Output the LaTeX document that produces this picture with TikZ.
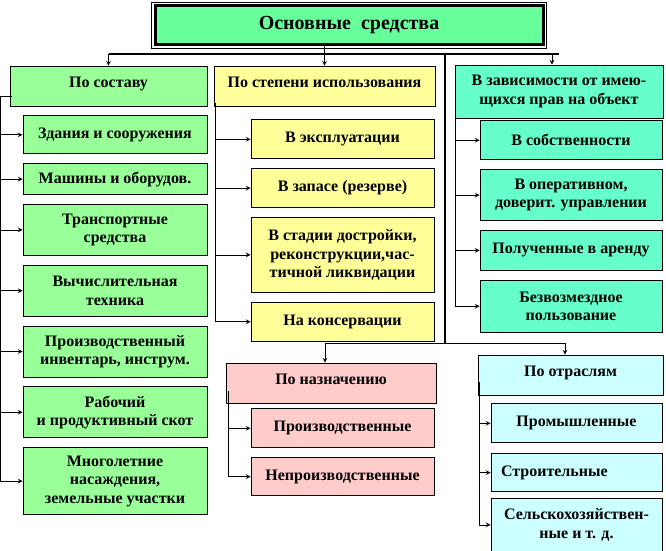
\documentclass[tikz,border=0pt]{standalone}
\usepackage{fontspec}
\setmainfont{Liberation Serif}
\usetikzlibrary{positioning, arrows}
\definecolor{titlegreen}{RGB}{102,255,153}
\definecolor{sostgreen}{RGB}{153,255,153}
\definecolor{stepyellow}{RGB}{255,255,153}
\definecolor{pravaqua}{RGB}{102,255,204}
\definecolor{naznpink}{RGB}{255,204,204}
\definecolor{otrcyan}{RGB}{204,255,255}
\tikzstyle{boxes} = [rectangle, draw=black, line width=0.6pt, align=center, inner sep=2pt,
font=\fontsize{12}{13.8}\selectfont\bfseries]
\tikzstyle{head} = [boxes, minimum height=30pt, text depth=6pt]
\tikzstyle{titlebox} = [rectangle, draw=black, line width=2.25pt, outer sep=0pt, fill=titlegreen,
minimum width=291pt, minimum height=28.9pt, font=\fontsize{15}{18}\selectfont\bfseries]
\tikzstyle{sostbox} = [boxes, fill=sostgreen, minimum width=138pt]
\tikzstyle{stepbox} = [boxes, fill=stepyellow, minimum width=137.25pt]
\tikzstyle{pravbox} = [boxes, fill=pravaqua, minimum width=136.5pt]
\tikzstyle{naznbox} = [boxes, fill=naznpink, minimum width=137.25pt]
\tikzstyle{otrbox} = [boxes, fill=otrcyan, minimum width=128.25pt]
\tikzstyle{arrow} = [line width=0.6pt, ->, >=stealth]
\tikzstyle{spine} = [line width=1.2pt]

\begin{document}
\begin{tikzpicture}[x=0.75pt, y=-0.75pt]
    \useasboundingbox (0,0) rectangle (666,550);

    %Title
    \node (title) [titlebox] at (349,25.25) {Основные\ \ средства};
    \draw [line width=0.6pt] ([shift={(-2.6pt,2.6pt)}]title.north west) rectangle ([shift={(2.6pt,-2.6pt)}]title.south east);

    %Main Nodes
    \node (sostav) [head, fill=sostgreen, minimum width=147.75pt] at (108.5,86) {По составу};
    \node (stepen) [head, fill=stepyellow, minimum width=165.75pt] at (324.5,86) {По степени использования};
    \node (prava) [boxes, fill=pravaqua, minimum width=156pt, minimum height=39.75pt] at (559,91.5) {В зависимости от имею-\\щихся прав на объект};
    \node (naznach) [head, fill=naznpink, minimum width=157.5pt] at (331,383) {По назначению};
    \node (otrasl) [head, fill=otrcyan, minimum width=138.75pt] at (570.5,375) {По отраслям};

    %Supplementary Nodes
    \node (zdan) [sostbox, minimum height=28.5pt, below=6.75pt of sostav.south east, anchor=north east] {Здания и сооружения};
    \node (mash) [sostbox, minimum height=23.25pt, below=6.75pt of zdan] {Машины и оборудов.};
    \node (trans) [sostbox, minimum height=38.25pt, below=6.75pt of mash] {Транспортные\\средства};
    \node (vych) [sostbox, minimum height=38.25pt, below=6.75pt of trans] {Вычислительная\\техника};
    \node (inv) [sostbox, minimum height=38.25pt, below=6.75pt of vych] {Производственный\\инвентарь, инструм.};
    \node (skot) [sostbox, minimum height=38.25pt, below=6.75pt of inv] {Рабочий\\и продуктивный скот};
    \node (mnog) [sostbox, minimum height=50.25pt, below=6.75pt of skot] {Многолетние\\насаждения,\\земельные участки};

    \node (expl) [stepbox, minimum height=29.25pt, below=9.75pt of stepen.south east, anchor=north east, xshift=-0.75pt] {В эксплуатации};
    \node (zapas) [stepbox, minimum height=29.25pt, below=6.75pt of expl] {В запасе (резерве)};
    \node (dostr) [stepbox, minimum height=56.25pt, below=6.75pt of zapas] {В стадии достройки,\\реконструкции,час-\\тичной ликвидации};
    \node (kons) [stepbox, minimum height=29.25pt, below=6.75pt of dostr] {На консервации};

    \node (sobst) [pravbox, minimum height=29.25pt, below=1.5pt of prava.south east, anchor=north east, xshift=-0.75pt] {В собственности};
    \node (operat) [pravbox, minimum height=38.25pt, below=6.75pt of sobst] {В оперативном,\\доверит. управлении};
    \node (arenda) [pravbox, minimum height=30pt, below=6.75pt of operat] {Полученные в аренду};
    \node (bezvozm) [pravbox, minimum height=39pt, below=6.75pt of arenda] {Безвозмездное\\пользование};

    \node (proizv) [naznbox, minimum height=29.25pt, below=3.75pt of naznach.south east, anchor=north east, xshift=-1.5pt] {Производственные};
    \node (neproizv) [naznbox, minimum height=28.5pt, below=6.75pt of proizv] {Непроизводственные};

    \node (prom) [otrbox, minimum height=29.25pt, below=6pt of otrasl.south east, anchor=north east, xshift=-0.75pt] {Промышленные};
    \node (stroit) [otrbox, minimum height=28.5pt, align=left, text width=113.25pt, inner xsep=7.5pt, below=7.5pt of prom] {Строительные};
    \node (selsk) [otrbox, minimum height=39.75pt, below=4.5pt of stroit] {Сельскохозяйствен-\\ные и т. д.};

    %Arrows
    \coordinate (split) at (324,54);
    \coordinate (bus) at (445,343);
    \draw [arrow] (title.south -| stepen.north) -- (stepen.north);
    \draw [line width=0.9pt] (split -| sostav.north) -- (split -| prava.north);
    \draw [arrow] (split) -| (sostav.north);
    \draw [arrow] (split) -| ([xshift=-5.25pt]prava.north);
    \draw [spine] (split -| bus) -- (bus);
    \draw [arrow] (bus) -| ([xshift=-4.5pt]naznach.north);
    \draw [arrow] (bus) -| ([xshift=-4.125pt]otrasl.north);

    \draw [arrow] ([xshift=1.5pt,yshift=7.5pt]sostav.south west) -- ++(-8.25pt,0) |- (zdan.west);
    \draw [arrow] ([xshift=1.5pt,yshift=7.5pt]sostav.south west) -- ++(-8.25pt,0) |- (mash.west);
    \draw [arrow] ([xshift=1.5pt,yshift=7.5pt]sostav.south west) -- ++(-8.25pt,0) |- (trans.west);
    \draw [arrow] ([xshift=1.5pt,yshift=7.5pt]sostav.south west) -- ++(-8.25pt,0) |- (vych.west);
    \draw [arrow] ([xshift=1.5pt,yshift=7.5pt]sostav.south west) -- ++(-8.25pt,0) |- (inv.west);
    \draw [arrow] ([xshift=1.5pt,yshift=7.5pt]sostav.south west) -- ++(-8.25pt,0) |- (skot.west);
    \draw [arrow] ([xshift=1.5pt,yshift=7.5pt]sostav.south west) -- ++(-8.25pt,0) |- (mnog.west);

    \draw [arrow] ([xshift=1.5pt,yshift=2.25pt]stepen.south west) |- (expl.west);
    \draw [arrow] ([xshift=1.5pt,yshift=2.25pt]stepen.south west) |- (zapas.west);
    \draw [arrow] ([xshift=1.5pt,yshift=2.25pt]stepen.south west) |- (dostr.west);
    \draw [arrow] ([xshift=1.5pt,yshift=2.25pt]stepen.south west) |- (kons.west);

    \draw [arrow] ([xshift=0.75pt,yshift=10.5pt]prava.south west) |- (sobst.west);
    \draw [arrow] ([xshift=0.75pt,yshift=10.5pt]prava.south west) |- (operat.west);
    \draw [arrow] ([xshift=0.75pt,yshift=10.5pt]prava.south west) |- (arenda.west);
    \draw [arrow] ([xshift=0.75pt,yshift=10.5pt]prava.south west) |- (bezvozm.west);

    \draw [arrow] ([xshift=2.25pt,yshift=9pt]naznach.south west) |- (proizv.west);
    \draw [arrow] ([xshift=2.25pt,yshift=9pt]naznach.south west) |- (neproizv.west);

    \draw [arrow] ([xshift=1.5pt,yshift=9.75pt]otrasl.south west) |- (prom.west);
    \draw [arrow] ([xshift=1.5pt,yshift=9.75pt]otrasl.south west) |- (stroit.west);
    \draw [arrow] ([xshift=1.5pt,yshift=9.75pt]otrasl.south west) |- (selsk.west);

\end{tikzpicture}
\end{document}
